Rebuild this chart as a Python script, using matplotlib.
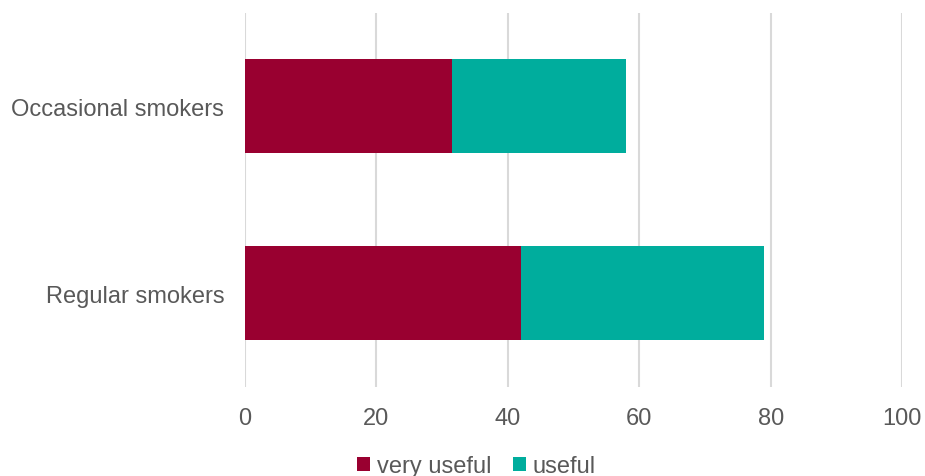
import matplotlib.pyplot as plt
import numpy as np

# survey results (percent)
groups = ["Regular smokers", "Occasional smokers"]
very_useful = [42, 31.5]
useful = [37, 26.5]
series_names = ["very useful", "useful"]
series_colors = ["#990030", "#00ad9d"]
x_ticks = [0, 20, 40, 60, 80, 100]

plt.rcParams['font.family'] = ['Liberation Sans', 'DejaVu Sans']
TEXT = "#595959"

fig = plt.figure(figsize=(9.25, 4.77), dpi=100)
ax = fig.add_axes([0.2649, 0.1875, 0.7103, 0.7841])

y = np.arange(len(groups))
ax.barh(y, very_useful, height=0.5, color=series_colors[0], label=series_names[0], zorder=3)
ax.barh(y, useful, left=very_useful, height=0.5, color=series_colors[1], label=series_names[1], zorder=3)

ax.set_xlim(0, 100)
ax.set_ylim(-0.5, 1.5)
ax.set_xticks(x_ticks)
ax.set_yticks(y)
ax.set_yticklabels(groups)
ax.tick_params(axis='x', length=0, pad=15, labelsize=17, labelcolor=TEXT)
ax.tick_params(axis='y', length=0, pad=15, labelsize=17, labelcolor=TEXT)
ax.grid(axis='x', color='#d9d9d9', linewidth=1.5, zorder=0)
for s in ax.spines.values():
    s.set_visible(False)

fig.legend(loc='center', bbox_to_anchor=(0.515, 0.02), ncol=2, frameon=False,
           fontsize=17, labelcolor=TEXT, handlelength=0.55, handleheight=0.55,
           handletextpad=0.3, columnspacing=0.9, borderaxespad=0, borderpad=0)

fig.savefig("out.png", dpi=100)
